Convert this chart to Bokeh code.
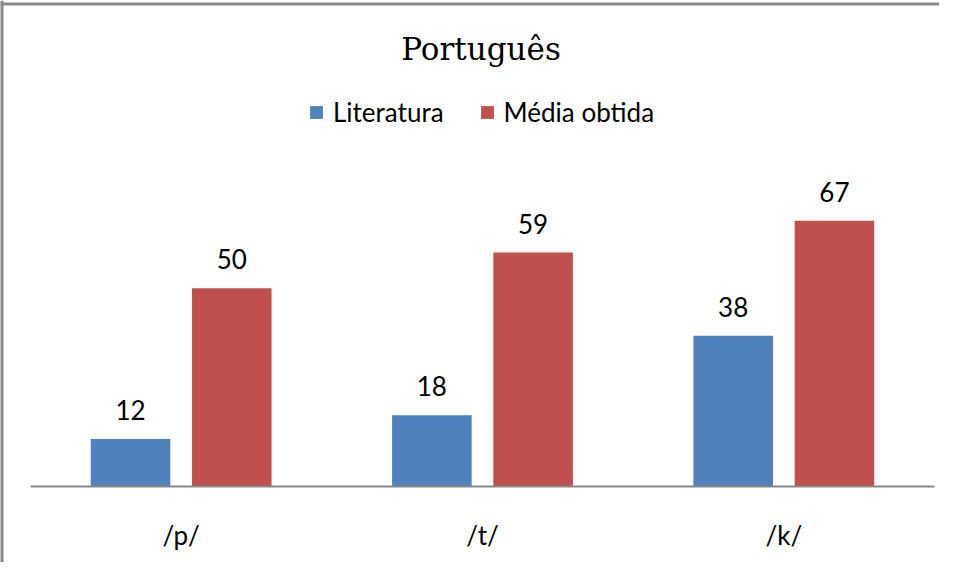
from bokeh.plotting import figure
from bokeh.models import (ColumnDataSource, Range1d, LabelSet, Label, Legend, LegendItem,
                          FixedTicker)
from bokeh.core.properties import value
from bokeh.embed import file_html
from bokeh.resources import INLINE

categories = ["/p/", "/t/", "/k/"]
literatura = [12, 18, 38]
media_obtida = [50, 59, 67]
series_names = ["Literatura", "Média obtida"]
title_text = "Português"
colors = ["#4F81BD", "#C0504D"]

W, H = 939, 562
# layout constants (pixels)
ppu = 3.965            # pixels per value unit
base_from_top = 486    # baseline position in canvas
cat_px = 301.33        # pixels per category
left_pad_px = 30

n = len(categories)
x_start = -left_pad_px / cat_px
x_end = x_start + W / cat_px
y_end = base_from_top / ppu
y_start = -(H - base_from_top) / ppu

off = 0.168
bw = 0.264
centers = [i + 0.5 for i in range(n)]

src = ColumnDataSource(dict(
    xl=[c - off for c in centers],
    xm=[c + off for c in centers],
    lit=literatura,
    med=media_obtida,
    lit_txt=[str(v) for v in literatura],
    med_txt=[str(v) for v in media_obtida],
))

p = figure(
    x_range=Range1d(x_start, x_end),
    y_range=Range1d(y_start, y_end),
    width=W, height=H,
    output_backend="svg",
    toolbar_location=None,
    min_border=0, min_border_left=0, min_border_right=0,
    min_border_top=0, min_border_bottom=0,
)
p.title.visible = False
p.outline_line_color = None
p.xgrid.grid_line_color = None
p.ygrid.grid_line_color = None
p.yaxis.visible = False
p.background_fill_color = "white"
p.border_fill_color = "white"

# chart-area border (left and top edges visible in the crop)
p.segment(x0=[x_start], y0=[y_start], x1=[x_start], y1=[y_end],
          line_color="#888888", line_width=6)
p.segment(x0=[x_start], y0=[y_end - 3.5 / ppu], x1=[x_end], y1=[y_end - 3.5 / ppu],
          line_color="#888888", line_width=3)

r1 = p.vbar(x="xl", top="lit", width=bw, source=src, fill_color=colors[0], line_color=None)
r2 = p.vbar(x="xm", top="med", width=bw, source=src, fill_color=colors[1], line_color=None)

# category axis baseline
p.segment(x0=[0], y0=[0], x1=[n], y1=[0], line_color="#888888", line_width=2)

font = "Lato"
fs = "26px"
for xcol, col, txt in (("xl", "lit", "lit_txt"), ("xm", "med", "med_txt")):
    p.add_layout(LabelSet(x=xcol, y=col, text=txt, source=src,
                          y_offset=19, text_align="center", text_baseline="alphabetic",
                          text_font=value(font), text_font_size=value(fs), text_color="black"))

p.add_layout(Label(x=480.5, y=H - 48, x_units="screen", y_units="screen", text=title_text,
                   text_align="center", text_baseline="alphabetic",
                   text_font="DejaVu Serif", text_font_size="31px", text_color="black"))

legend = Legend(items=[LegendItem(label=series_names[0], renderers=[r1]),
                       LegendItem(label=series_names[1], renderers=[r2])],
                orientation="horizontal", location=(308, H - 128),
                glyph_width=16, glyph_height=16, label_standoff=9, spacing=35,
                padding=0, margin=0, border_line_color=None, background_fill_alpha=0,
                label_text_font=font, label_text_font_size=fs, label_text_color="black")
p.add_layout(legend)

ax = p.xaxis[0]
ax.fixed_location = 0
ax.ticker = FixedTicker(ticks=centers)
ax.major_label_overrides = {c: lab for c, lab in zip(centers, categories)}
ax.axis_line_color = None
ax.major_tick_line_color = None
ax.minor_tick_line_color = None
ax.major_label_text_font = font
ax.major_label_text_font_size = fs
ax.major_label_text_color = "black"
ax.major_label_standoff = 26

open("out.html", "w").write(file_html(p, INLINE))
